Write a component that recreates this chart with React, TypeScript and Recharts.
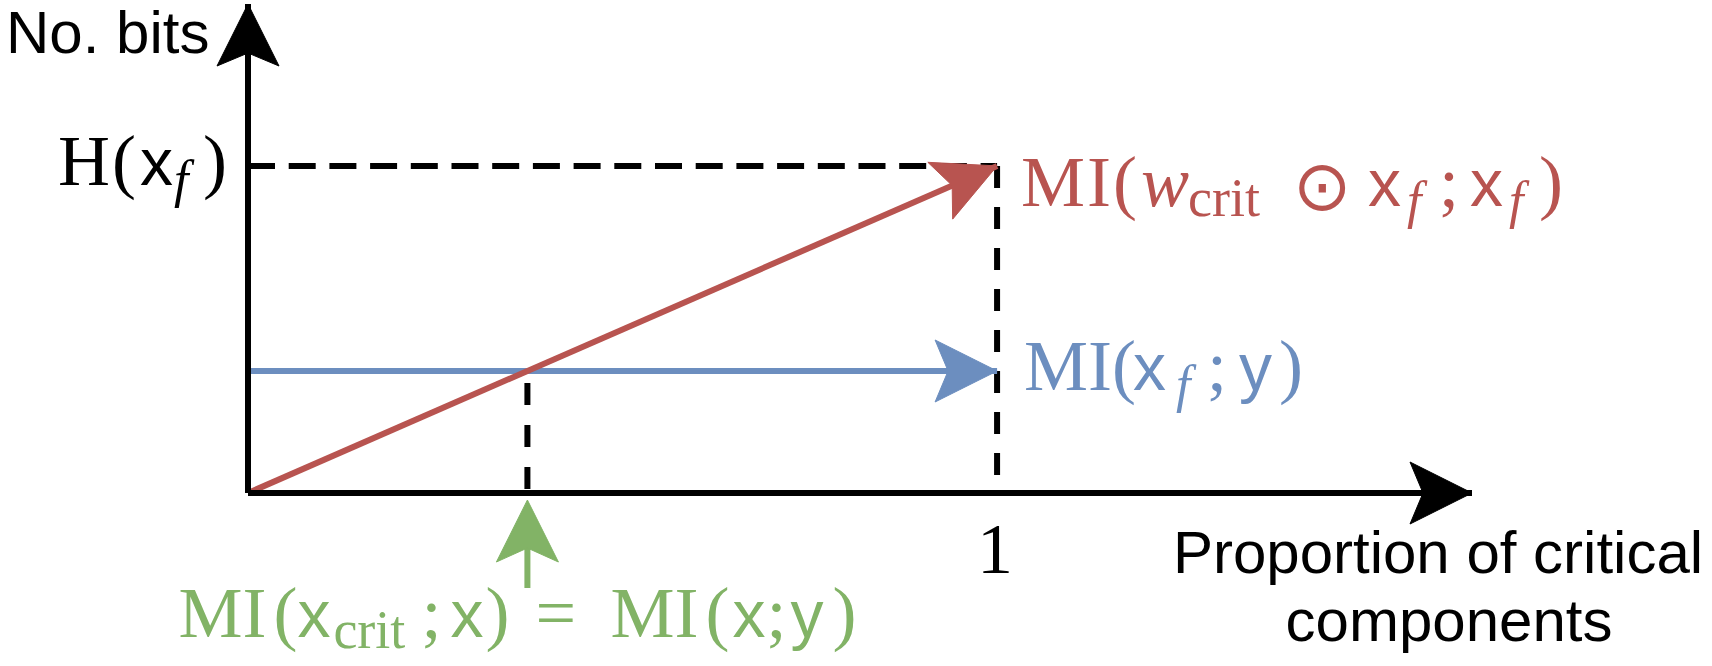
import React from "react";
import { ComposedChart, Line, XAxis, YAxis, ReferenceDot } from "recharts";

// values (x: proportion of critical components, y: bits, H(x_f) = 1)
const proportion = [0, 1];
const miCritical = [0, 1]; // MI(w_crit ⊙ x_f; x_f)
const miTarget = [0.373, 0.373]; // MI(x_f; y)
const entropyLevel = 1; // H(x_f)
const xTicks = [1];
const yTicks = [1];
const xMax = 1.634;
const yMax = 1.495;
const yTitle = "No. bits";
const xTitle = ["Proportion of critical", "components"];

const RED = "#b85450";
const BLUE = "#6c8ebf";
const GREEN = "#82b366";

const SERIF = '"Liberation Serif", "Times New Roman", serif';
const SANS = '"Liberation Sans", Arial, sans-serif';
const SYMBOL = '"DejaVu Sans", sans-serif';

const redData = proportion.map((x, i) => ({ x, y: miCritical[i] }));
const blueData = proportion.map((x, i) => ({ x, y: miTarget[i] }));
const cross = miTarget[0] / (miCritical[1] / proportion[1]);
const entropyGuide = proportion.map((x) => ({ x, y: entropyLevel }));
const fullGuide = [
  { x: proportion[1], y: entropyLevel },
  { x: proportion[1], y: 0 },
];
const crossGuide = [
  { x: cross, y: miTarget[0] },
  { x: cross, y: 0 },
];

type Seg = { t: string; dx: number; f: "rm" | "sf" | "it" | "si" | "sub" | "op"; dy?: number };

const FONT: Record<string, { family: string; size: number; style?: string }> = {
  rm: { family: SERIF, size: 72 },
  sf: { family: SANS, size: 66 },
  it: { family: SERIF, size: 72, style: "italic" },
  si: { family: SERIF, size: 52, style: "italic" },
  sub: { family: SERIF, size: 54 },
  op: { family: SYMBOL, size: 70 },
};

// label layouts (offsets from label origin, px)
const hLabel: Seg[] = [
  { t: "H", dx: 0, f: "rm" },
  { t: "(", dx: 54, f: "rm" },
  { t: "x", dx: 82, f: "sf" },
  { t: "f", dx: 116, f: "si", dy: 12 },
  { t: ")", dx: 145, f: "rm" },
];
const redLabel: Seg[] = [
  { t: "M", dx: 0, f: "rm" },
  { t: "I", dx: 66, f: "rm" },
  { t: "(", dx: 92, f: "rm" },
  { t: "w", dx: 120, f: "it" },
  { t: "crit", dx: 167, f: "sub", dy: 10 },
  { t: "\u2299", dx: 272, f: "op", dy: 4 },
  { t: "x", dx: 347, f: "sf" },
  { t: "f", dx: 386, f: "si", dy: 12 },
  { t: ";", dx: 418, f: "rm" },
  { t: "x", dx: 449, f: "sf" },
  { t: "f", dx: 488, f: "si", dy: 12 },
  { t: ")", dx: 518, f: "rm" },
];
const blueLabel: Seg[] = [
  { t: "M", dx: 0, f: "rm" },
  { t: "I", dx: 64, f: "rm" },
  { t: "(", dx: 88, f: "rm" },
  { t: "x", dx: 109, f: "sf" },
  { t: "f", dx: 152, f: "si", dy: 12 },
  { t: ";", dx: 183, f: "rm" },
  { t: "y", dx: 215, f: "sf" },
  { t: ")", dx: 255, f: "rm" },
];
const greenLabel: Seg[] = [
  { t: "M", dx: 0, f: "rm" },
  { t: "I", dx: 64, f: "rm" },
  { t: "(", dx: 95, f: "rm" },
  { t: "x", dx: 119, f: "sf" },
  { t: "crit", dx: 155, f: "sub", dy: 11 },
  { t: ";", dx: 243, f: "rm" },
  { t: "x", dx: 272, f: "sf" },
  { t: ")", dx: 307, f: "rm" },
  { t: "=", dx: 357, f: "rm" },
  { t: "M", dx: 432, f: "rm" },
  { t: "I", dx: 496, f: "rm" },
  { t: "(", dx: 527, f: "rm" },
  { t: "x", dx: 554, f: "sf" },
  { t: ";", dx: 588, f: "rm" },
  { t: "y", dx: 612, f: "sf" },
  { t: ")", dx: 654, f: "rm" },
];

function MathText({ x, y, segs, color }: { x: number; y: number; segs: Seg[]; color: string }) {
  return (
    <text fill={color}>
      {segs.map((g, i) => {
        const f = FONT[g.f];
        return (
          <tspan
            key={i}
            x={x + g.dx}
            y={y + (g.dy ?? 0)}
            fontFamily={f.family}
            fontSize={f.size}
            fontStyle={f.style}
          >
            {g.t}
          </tspan>
        );
      })}
    </text>
  );
}

function arrowHead(tx: number, ty: number, angle: number, color: string, len = 62, half = 31, notch = 13) {
  const c = Math.cos(angle);
  const s = Math.sin(angle);
  const pt = (u: number, v: number) => `${tx + u * c - v * s},${ty + u * s + v * c}`;
  return (
    <path
      d={`M${pt(0, 0)} L${pt(-len, -half)} L${pt(-len + notch, 0)} L${pt(-len, half)} Z`}
      fill={color}
      stroke={color}
      strokeWidth={1}
    />
  );
}

const arrowDot = (color: string) => (props: any) => {
  const { cx, cy, index, points } = props;
  if (!points || index !== points.length - 1) return <g key={`d-${index}`} />;
  const prev = points[index - 1];
  const ang = Math.atan2(cy - prev.y, cx - prev.x);
  return <g key={`d-${index}`}>{arrowHead(cx, cy, ang, color)}</g>;
};

const renderXTick = (p: any) => (
  <text
    x={p.payload.coordinate - 2}
    y={p.y + 80}
    textAnchor="middle"
    fontFamily={SERIF}
    fontSize={72}
    fill="#000"
  >
    {p.payload.value}
  </text>
);

const renderYTick = (p: any) => <MathText x={p.x - 190} y={p.y + 19} segs={hLabel} color="#000" />;

const renderYTitle = (p: any) => {
  const vb = p.viewBox;
  return (
    <text x={vb.x + 6} y={vb.y + 49} fontFamily={SANS} fontSize={60} fill="#000">
      {yTitle}
    </text>
  );
};

const renderXTitle = (p: any) => {
  const vb = p.viewBox;
  const right = vb.x + vb.width;
  return (
    <text textAnchor="middle" fontFamily={SANS} fontSize={60} fill="#000">
      <tspan x={right - 34} y={vb.y + 80}>
        {xTitle[0]}
      </tspan>
      <tspan x={right - 23} y={vb.y + 148}>
        {xTitle[1]}
      </tspan>
    </text>
  );
};

export default function App() {
  return (
    <div style={{ position: "absolute", left: 0, top: 0, width: 1712, height: 666, background: "#fff" }}>
      <ComposedChart width={1712} height={666} margin={{ top: 4, right: 240, bottom: 133, left: 0 }}>
        <XAxis
          type="number"
          dataKey="x"
          domain={[0, xMax]}
          ticks={xTicks}
          tickLine={false}
          tickSize={0}
          tickMargin={0}
          height={40}
          axisLine={{ stroke: "#000", strokeWidth: 6 }}
          tick={renderXTick}
          label={{ content: renderXTitle }}
        />
        <YAxis
          type="number"
          domain={[0, yMax]}
          ticks={yTicks}
          tickLine={false}
          tickSize={0}
          tickMargin={0}
          width={248}
          axisLine={{ stroke: "#000", strokeWidth: 6 }}
          tick={renderYTick}
          label={{ content: renderYTitle }}
        />
        <Line
          data={entropyGuide}
          dataKey="y"
          type="linear"
          stroke="#000"
          strokeWidth={6}
          strokeDasharray="27 13.7"
          dot={false}
          activeDot={false}
          isAnimationActive={false}
        />
        <Line
          data={fullGuide}
          dataKey="y"
          type="linear"
          stroke="#000"
          strokeWidth={6}
          strokeDasharray="22 19"
          dot={false}
          activeDot={false}
          isAnimationActive={false}
        />
        <Line
          data={crossGuide}
          dataKey="y"
          type="linear"
          stroke="#000"
          strokeWidth={6}
          strokeDasharray="22 20"
          strokeDashoffset={30}
          dot={false}
          activeDot={false}
          isAnimationActive={false}
        />
        <Line
          data={blueData}
          dataKey="y"
          type="linear"
          stroke={BLUE}
          strokeWidth={6}
          dot={arrowDot(BLUE)}
          activeDot={false}
          isAnimationActive={false}
        />
        <Line
          data={redData}
          dataKey="y"
          type="linear"
          stroke={RED}
          strokeWidth={6}
          dot={arrowDot(RED)}
          activeDot={false}
          isAnimationActive={false}
        />
        <ReferenceDot
          x={xMax}
          y={0}
          r={1}
          ifOverflow="visible"
          shape={(p: any) => arrowHead(p.cx, p.cy, 0, "#000")}
        />
        <ReferenceDot
          x={0}
          y={yMax}
          r={1}
          ifOverflow="visible"
          shape={(p: any) => arrowHead(p.cx, p.cy, -Math.PI / 2, "#000")}
        />
        <ReferenceDot
          x={proportion[1]}
          y={miCritical[1]}
          r={1}
          ifOverflow="visible"
          shape={(p: any) => <MathText x={p.cx + 24} y={p.cy + 40} segs={redLabel} color={RED} />}
        />
        <ReferenceDot
          x={proportion[1]}
          y={miTarget[1]}
          r={1}
          ifOverflow="visible"
          shape={(p: any) => <MathText x={p.cx + 27} y={p.cy + 19} segs={blueLabel} color={BLUE} />}
        />
        <ReferenceDot
          x={cross}
          y={0}
          r={1}
          ifOverflow="visible"
          shape={(p: any) => (
            <g>
              <rect x={p.cx - 3} y={p.cy + 50} width={6} height={45} fill={GREEN} />
              {arrowHead(p.cx, p.cy + 7, -Math.PI / 2, GREEN, 62, 31, 14)}
              <MathText x={p.cx - 349} y={p.cy + 144} segs={greenLabel} color={GREEN} />
            </g>
          )}
        />
      </ComposedChart>
    </div>
  );
}
